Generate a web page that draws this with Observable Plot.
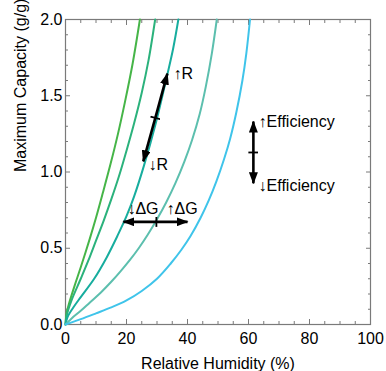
<!DOCTYPE html>
<html><head><meta charset="utf-8">
<script src="https://cdn.jsdelivr.net/npm/d3@7"></script>
<script src="https://cdn.jsdelivr.net/npm/@observablehq/plot@0.6"></script>
<style>body{margin:0;background:#fff}</style>
</head><body><div id="chart"></div>
<script>
// ---- data ----
const seriesNames = ["c1", "c2", "c3", "c4", "c5"];
const seriesColors = ["#46b548", "#2bb27c", "#17ad9e", "#5cbfae", "#3fc4ea"];
const c1RH  = [0, 0.4, 1.2, 3, 5, 8, 10, 12.2, 14.8, 17.2, 19.5, 22, 24.4];
const c1Cap = [0, 0.08, 0.14, 0.255, 0.375, 0.565, 0.7, 0.86, 1.055, 1.25, 1.46, 1.71, 2.0];
const c2RH  = [0, 0.4, 2, 5, 7.5, 10, 12.5, 15, 17.5, 20, 22.5, 25, 27.2, 29.4];
const c2Cap = [0, 0.06, 0.16, 0.3, 0.42, 0.55, 0.68, 0.82, 0.97, 1.14, 1.32, 1.52, 1.73, 2.0];
const c3RH  = [0, 0.7, 2.5, 5, 9.4, 13.5, 17, 20, 22.5, 25.7, 29.6, 33.4, 35.3, 37];
const c3Cap = [0, 0.05, 0.11, 0.18, 0.3, 0.44, 0.58, 0.71, 0.84, 1.04, 1.32, 1.64, 1.81, 2.0];
const c4RH  = [0, 2, 5, 8, 11.6, 15, 18.1, 21, 24, 27, 30, 33, 36, 39, 41.5, 44, 46, 48, 49.6];
const c4Cap = [0, 0.04, 0.09, 0.145, 0.21, 0.28, 0.35, 0.42, 0.5, 0.59, 0.69, 0.8, 0.925, 1.07, 1.21, 1.38, 1.56, 1.78, 2.0];
const c5RH  = [0, 5, 10, 15, 20, 25, 30, 34.5, 38, 41, 44.3, 47, 49.5, 52, 54, 56, 58, 59.3, 60.5];
const c5Cap = [0, 0.035, 0.073, 0.112, 0.158, 0.22, 0.3, 0.4, 0.49, 0.58, 0.7, 0.815, 0.94, 1.085, 1.22, 1.39, 1.6, 1.78, 2.0];

const xMajor = [0, 20, 40, 60, 80, 100];
const xMinor = [5, 10, 15, 25, 30, 35, 45, 50, 55, 65, 70, 75, 85, 90, 95];
const yMajor = [0, 0.5, 1.0, 1.5, 2.0];
const yMinor = [0.1, 0.2, 0.3, 0.4, 0.6, 0.7, 0.8, 0.9, 1.1, 1.2, 1.3, 1.4, 1.6, 1.7, 1.8, 1.9];

// annotation arrows: [RH, capacity] start, middle tick, end
const arrowNames = ["R", "Efficiency", "dG"];
const arrowR   = [[25.5, 1.07], [29.45, 1.355], [33.4, 1.645]];
const arrowEff = [[61.6, 0.926], [61.6, 1.128], [61.6, 1.331]];
const arrowDG  = [[19, 0.673], [29.8, 0.673], [40, 0.673]];

const labelTexts = ["↑R", "↓R", "↓ΔG", "↑ΔG", "↑Efficiency", "↓Efficiency"];
const labelRH    = [35.4, 27.2, 20.3, 33.1, 63.3, 63.3];
const labelCap   = [1.645, 1.046, 0.761, 0.761, 1.33, 0.909];

// ---- build tables ----
const curveRH = [c1RH, c2RH, c3RH, c4RH, c5RH];
const curveCap = [c1Cap, c2Cap, c3Cap, c4Cap, c5Cap];
const curves = seriesNames.flatMap((s, i) => curveRH[i].map((x, j) => ({series: s, x, y: curveCap[i][j]})));
const arrowSets = [arrowR, arrowEff, arrowDG];
const arrows = arrowNames.flatMap((n, i) => arrowSets[i].map(([x, y]) => ({id: n, x, y})));
const labels = labelTexts.map((t, i) => ({t, x: labelRH[i], y: labelCap[i]}));

const font = "'Liberation Sans', Arial, 'DejaVu Sans', sans-serif";
const gray = "#7a7a7a";

const chart = Plot.plot({
  width: 386, height: 371,
  marginLeft: 65, marginRight: 16, marginTop: 19, marginBottom: 47,
  style: {fontFamily: font, fontSize: "16px", color: "#000", background: "#fff"},
  x: {domain: [0, 100]},
  y: {domain: [0, 2]},
  color: {domain: seriesNames, range: seriesColors},
  marks: [
    // inward ticks on all four sides
    Plot.axisX(xMajor, {anchor: "bottom", tickSize: 5, dy: -5, tickFormat: () => "", label: null, stroke: gray}),
    Plot.axisX(xMinor, {anchor: "bottom", tickSize: 3, dy: -3, tickFormat: () => "", label: null, stroke: gray}),
    Plot.axisX(xMajor, {anchor: "top", tickSize: 5, dy: 5, tickFormat: () => "", label: null, stroke: gray}),
    Plot.axisX(xMinor, {anchor: "top", tickSize: 3, dy: 3, tickFormat: () => "", label: null, stroke: gray}),
    Plot.axisY(yMajor, {anchor: "left", tickSize: 5, dx: 5, tickFormat: () => "", label: null, stroke: gray}),
    Plot.axisY(yMinor, {anchor: "left", tickSize: 3, dx: 3, tickFormat: () => "", label: null, stroke: gray}),
    Plot.axisY(yMajor, {anchor: "right", tickSize: 5, dx: -5, tickFormat: () => "", label: null, stroke: gray}),
    Plot.axisY(yMinor, {anchor: "right", tickSize: 3, dx: -3, tickFormat: () => "", label: null, stroke: gray}),
    // tick labels
    Plot.axisX(xMajor, {anchor: "bottom", tickSize: 0, tickPadding: 8, label: null, fontSize: 16, fill: "#000"}),
    Plot.axisY(yMajor, {anchor: "left", tickSize: 0, tickPadding: 3, tickFormat: d3.format(".1f"), label: null, fontSize: 16, fill: "#000"}),
    // axis titles
    Plot.text(["Relative Humidity (%)"], {frameAnchor: "bottom", dy: 33, lineAnchor: "top", fontSize: 16, fill: "#000"}),
    Plot.text(["Maximum Capacity (g/g)"], {frameAnchor: "left", dx: -51, rotate: -90, lineAnchor: "top", fontSize: 16, fill: "#000"}),
    Plot.frame({stroke: gray, strokeWidth: 1.2}),
    // isotherm curves
    Plot.line(curves, {x: "x", y: "y", z: "series", stroke: "series", strokeWidth: 2, curve: "catmull-rom"}),
    // annotation arrows
    Plot.line(arrows, {x: "x", y: "y", z: "id", stroke: "#000", strokeWidth: 2.6, strokeLinecap: "butt", className: "anno-arrows"}),
    Plot.text(labels, {x: "x", y: "y", text: "t", textAnchor: "start", lineAnchor: "middle", fontSize: 16, fill: "#000"})
  ]
});

// filled arrow heads + centre ticks
const svg = d3.select(chart);
const defs = svg.append("defs");
defs.append("marker").attr("id", "ahead")
  .attr("viewBox", "0 -4.5 12 9").attr("refX", 11).attr("refY", 0)
  .attr("markerWidth", 12).attr("markerHeight", 9)
  .attr("markerUnits", "userSpaceOnUse").attr("orient", "auto-start-reverse")
  .append("path").attr("d", "M0,-4.5L12,0L0,4.5Z").attr("fill", "#000");
defs.append("marker").attr("id", "amid")
  .attr("viewBox", "-1.5 -5 3 10").attr("refX", 0).attr("refY", 0)
  .attr("markerWidth", 3).attr("markerHeight", 10)
  .attr("markerUnits", "userSpaceOnUse").attr("orient", "auto")
  .append("path").attr("d", "M0,-5V5").attr("stroke", "#000").attr("stroke-width", 1.8);
svg.selectAll("g.anno-arrows path")
  .attr("marker-start", "url(#ahead)")
  .attr("marker-mid", "url(#amid)")
  .attr("marker-end", "url(#ahead)");

document.getElementById("chart").append(chart);
</script>
</body></html>
